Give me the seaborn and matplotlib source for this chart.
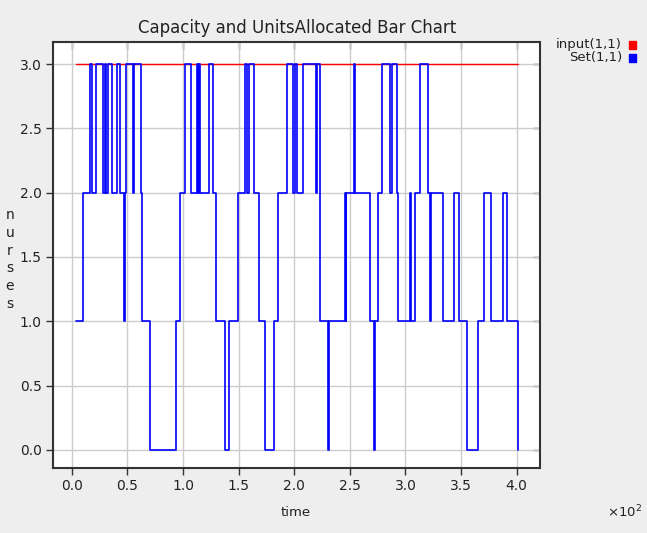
import matplotlib
matplotlib.use("Agg")
import numpy as np
import matplotlib.pyplot as plt
import seaborn as sns

# allocated units: each value holds from its time until the next change
set_time = [3.6, 10.4, 16.2, 18.0, 21.6, 28.4, 29.9, 30.8, 32.6, 36.5,
            40.5, 43.2, 47.3, 48.2, 49.1, 55.4, 56.3, 61.9, 63.5, 70.4,
            93.8, 97.4, 101.6, 107.3, 112.4, 113.3, 114.2, 115.1, 123.5, 127.1,
            130.0, 137.9, 141.0, 149.3, 155.8, 157.2, 159.0, 163.8, 168.2, 173.8,
            182.2, 185.8, 193.3, 199.3, 200.4, 202.9, 207.7, 219.2, 220.9, 222.8,
            230.8, 231.4, 245.8, 246.4, 246.9, 253.4, 254.3, 268.3, 271.7, 272.8,
            275.7, 279.3, 286.2, 287.8, 292.3, 293.7, 304.2, 305.3, 308.7, 313.2,
            320.2, 322.0, 322.9, 333.9, 343.2, 347.7, 355.5, 365.4, 370.8, 377.3,
            387.9, 391.2, 401.6]
set_units = [1, 2, 3, 2, 3, 2, 3, 2, 3, 2,
             3, 2, 1, 2, 3, 2, 3, 2, 1, 0,
             1, 2, 3, 2, 3, 2, 3, 2, 3, 2,
             1, 0, 1, 2, 3, 2, 3, 2, 1, 0,
             1, 2, 3, 2, 3, 2, 3, 2, 3, 1,
             0, 1, 2, 1, 2, 3, 2, 1, 0, 1,
             2, 3, 2, 3, 2, 1, 2, 1, 2, 3,
             2, 1, 2, 1, 2, 1, 0, 1, 2, 1,
             2, 1, 0]

# capacity line
input_time = [3.6, 401.6]
input_units = [3, 3]

x_ticks = [0, 50, 100, 150, 200, 250, 300, 350, 400]
y_ticks = [0.0, 0.5, 1.0, 1.5, 2.0, 2.5, 3.0]

sns.set_style("whitegrid")
plt.rcParams['font.family'] = ['DejaVu Sans']
plt.rcParams['mathtext.default'] = 'regular'

W, H = 647, 533
fig = plt.figure(figsize=(W / 100, H / 100), dpi=100, facecolor="#eeeeee")
ax = fig.add_axes([53 / W, 1 - 468 / H, (539.5 - 53) / W, (468 - 42) / H])
ax.set_facecolor("white")

sns.lineplot(x=input_time, y=input_units, color="#ff0000", lw=1.0,
             estimator=None, ax=ax)
sns.lineplot(x=set_time, y=set_units, color="#0000ff", lw=1.2,
             drawstyle="steps-post", estimator=None, ax=ax)

ax.set_xlim(-16.8, 420.5)
ax.set_ylim(-0.14, 3.171)
ax.set_xticks(x_ticks)
ax.set_xticklabels([f"{t / 100:.1f}" for t in x_ticks])
ax.set_yticks(y_ticks)
ax.set_yticklabels([f"{v:.1f}" for v in y_ticks])
ax.grid(True, color="#cccccc", lw=1.0)

for s in ax.spines.values():
    s.set_color("#333333")
    s.set_linewidth(1.5)
ax.tick_params(axis="both", direction="out", length=5, width=1,
               color="#333333", labelsize=10, labelcolor="#222222", pad=3,
               bottom=True, left=True)

top = ax.secondary_xaxis("top")
top.set_xticks(x_ticks)
top.tick_params(direction="in", length=5, width=1, color="#333333",
                top=True, labeltop=False)
right = ax.secondary_yaxis("right")
right.set_yticks(y_ticks)
right.tick_params(direction="in", length=5, width=1, color="#333333",
                  right=True, labelright=False)
top.spines["top"].set_visible(False)
right.spines["right"].set_visible(False)

ax.set_xlabel("")
ax.set_ylabel("")

fig.text(297 / W, 1 - 28 / H, "Capacity and UnitsAllocated Bar Chart",
         ha="center", va="center", fontsize=12, color="#222222")
fig.text(296 / W, 1 - 513 / H, "time", ha="center", va="center",
         fontsize=9.5, color="#222222")
fig.text(624 / W, 1 - 512 / H, "×10$^2$", ha="center", va="center",
         fontsize=9.5, color="#222222")
for i, ch in enumerate("nurses"):
    fig.text(10 / W, 1 - (215 + i * 17.8) / H, ch, ha="center",
             va="center", fontsize=10, color="#222222")

# legend
legend_items = [("input(1,1)", "#ff0000"), ("Set(1,1)", "#0000ff")]
for i, (name, col) in enumerate(legend_items):
    yc = 45 + i * 13
    fig.text(622 / W, 1 - yc / H, name, ha="right", va="center",
             fontsize=9.5, color="#222222")
    fig.patches.append(plt.Rectangle((629 / W, 1 - (yc + 3.5) / H), 7 / W, 7 / H,
                                     transform=fig.transFigure, color=col,
                                     figure=fig))

fig.savefig("out.png", dpi=100, facecolor=fig.get_facecolor())
